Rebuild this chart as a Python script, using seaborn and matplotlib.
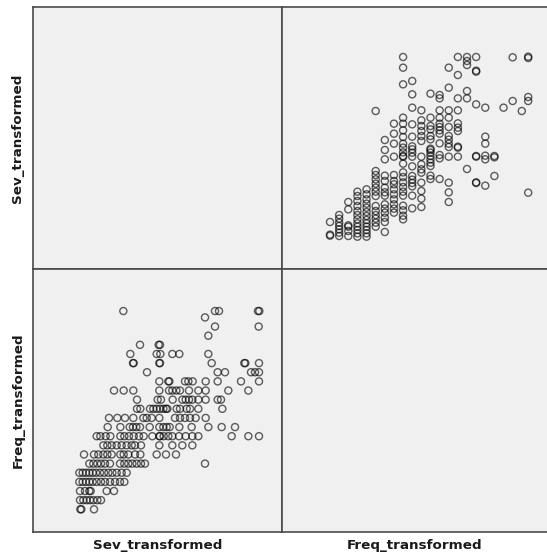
import numpy as np
import pandas as pd
import matplotlib
matplotlib.use("Agg")
import matplotlib.pyplot as plt
import seaborn as sns

# Frequency levels (transformed) and the severity values observed at each level
freq_levels = [2.17, 2.10, 2.00, 1.90, 1.80, 1.70, 1.60, 1.50, 1.40, 1.30, 1.20,
               1.10, 1.00, 0.90, 0.80, 0.70, 0.60, 0.50, 0.40, 0.30, 0.20, 0.10, 0.00]

sev_f217 = [2.65, 5.40, 5.52, 6.69, 6.73]
sev_f210 = [5.10]
sev_f200 = [5.40, 6.71]
sev_f190 = [5.20]
sev_f180 = [3.15, 3.71, 3.75]
sev_f170 = [2.86, 3.65, 3.76, 4.12, 4.33, 5.20]
sev_f160 = [2.94, 2.96, 3.73, 3.75, 5.30, 6.28, 6.31, 6.72]
sev_f150 = [3.36, 5.48, 5.70, 6.48, 6.60, 6.72]
sev_f140 = [3.73, 4.00, 4.03, 4.50, 4.60, 4.73, 5.12, 5.48, 6.18, 6.72]
sev_f130 = [2.37, 2.66, 2.95, 3.73, 4.02, 4.12, 4.24, 4.35, 4.62, 4.90, 5.12,
            5.80, 6.40]
sev_f120 = [3.06, 3.68, 3.78, 4.13, 4.42, 4.52, 4.62, 4.72, 4.90, 5.12, 5.48,
            5.58]
sev_f110 = [3.06, 3.16, 3.45, 3.55, 3.65, 3.75, 3.85, 3.93, 3.97, 4.25, 4.35,
            4.55, 4.65, 4.90, 5.62]
sev_f100 = [2.22, 2.47, 2.70, 2.95, 3.25, 3.35, 3.50, 3.73, 4.20, 4.35, 4.50,
            4.65, 4.82, 5.12]
sev_f090 = [2.18, 2.56, 2.84, 2.94, 3.04, 3.15, 3.44, 3.73, 3.85, 3.95, 4.04,
            4.33, 4.70, 5.20, 5.60, 6.00]
sev_f080 = [1.85, 1.96, 2.12, 2.26, 2.56, 2.68, 2.82, 2.96, 3.12, 3.26, 3.52,
            3.73, 3.75, 3.86, 4.00, 4.12, 4.32, 4.52, 4.72, 4.90, 5.90, 6.40,
            6.72]
sev_f070 = [2.05, 2.17, 2.30, 2.45, 2.60, 2.75, 2.90, 3.00, 3.18, 3.73, 4.12,
            4.42, 4.72]
sev_f060 = [1.47, 1.77, 1.90, 2.05, 2.17, 2.30, 2.56, 2.66, 2.80, 3.00, 3.16,
            3.65, 3.93, 4.23]
sev_f050 = [1.63, 1.75, 1.87, 1.98, 2.10, 2.25, 2.55, 2.68, 2.80, 2.92, 3.05,
            3.18, 3.30, 5.10]
sev_f040 = [1.33, 1.43, 1.53, 1.63, 1.73, 1.83, 1.95, 2.07, 2.20, 2.32, 2.45,
            2.60, 2.75]
sev_f030 = [1.33, 1.43, 1.53, 1.63, 1.73, 1.85, 1.98, 2.10, 2.25, 2.40, 2.55,
            2.68]
sev_f020 = [1.35, 1.50, 1.63, 1.67, 2.15, 2.37]
sev_f010 = [1.35, 1.45, 1.55, 1.65, 1.75, 1.87, 1.98]
sev_f000 = [1.36, 1.39, 1.77]

sev_rows = [sev_f217, sev_f210, sev_f200, sev_f190, sev_f180, sev_f170,
            sev_f160, sev_f150, sev_f140, sev_f130, sev_f120, sev_f110,
            sev_f100, sev_f090, sev_f080, sev_f070, sev_f060, sev_f050,
            sev_f040, sev_f030, sev_f020, sev_f010, sev_f000]

var_names = ["Sev_transformed", "Freq_transformed"]

sev_col = [s for row in sev_rows for s in row]
freq_col = [f for f, row in zip(freq_levels, sev_rows) for _ in row]
df = pd.DataFrame({"Sev_transformed": sev_col, "Freq_transformed": freq_col})

sns.set_style("white")
plt.rcParams["font.family"] = ["DejaVu Sans"]

W, H = 547, 557
fig = plt.figure(figsize=(W / 100, H / 100), dpi=100)

# panel edges in pixels
x_left, x_mid, x_right = 33, 282, 547
y_top, y_mid, y_bot = 7, 269, 531.5


def panel(x0, x1, y0, y1):
    return fig.add_axes([x0 / W, 1 - y1 / H, (x1 - x0) / W, (y1 - y0) / H])


ax_tl = panel(x_left, x_mid, y_top, y_mid)
ax_tr = panel(x_mid, x_right, y_top, y_mid)
ax_bl = panel(x_left, x_mid, y_mid, y_bot)
ax_br = panel(x_mid, x_right, y_mid, y_bot)

limits = {
    "Sev_transformed": {"col": (-0.06, 7.41), "row": (0.36, 8.22)},
    "Freq_transformed": {"col": (-0.526, 2.376), "row": (-0.243, 2.63)},
}

pt_kw = dict(marker="o", s=26, facecolors="none", edgecolor="black",
             linewidth=1.0, alpha=0.62, legend=False)

sns.scatterplot(data=df, x="Freq_transformed", y="Sev_transformed",
                ax=ax_tr, **pt_kw)
sns.scatterplot(data=df, x="Sev_transformed", y="Freq_transformed",
                ax=ax_bl, **pt_kw)

grid = {(0, 0): ax_tl, (0, 1): ax_tr, (1, 0): ax_bl, (1, 1): ax_br}
for (i, j), ax in grid.items():
    ax.set_facecolor("#F0F0F0")
    ax.set_xlim(limits[var_names[j]]["col"])
    ax.set_ylim(limits[var_names[i]]["row"])
    ax.set_xticks([])
    ax.set_yticks([])
    ax.set_xlabel("")
    ax.set_ylabel("")
    for side, sp in ax.spines.items():
        sp.set_color("#4a4a4a")
        sp.set_linewidth(1.2)
    if j == 1:
        ax.spines["right"].set_visible(False)

lab_kw = dict(fontsize=9.7, fontweight="bold", color="#1a1a1a",
              ha="center", va="center")
fig.text((x_left + x_mid) / 2 / W, 1 - 545 / H, var_names[0], **lab_kw)
fig.text((x_mid + x_right) / 2 / W, 1 - 545 / H, var_names[1], **lab_kw)
fig.text(18 / W, 1 - (y_top + y_mid) / 2 / H, var_names[0], rotation=90, **lab_kw)
fig.text(18 / W, 1 - (y_mid + y_bot) / 2 / H, var_names[1], rotation=90, **lab_kw)

fig.savefig("out.png", dpi=100, facecolor="white")
